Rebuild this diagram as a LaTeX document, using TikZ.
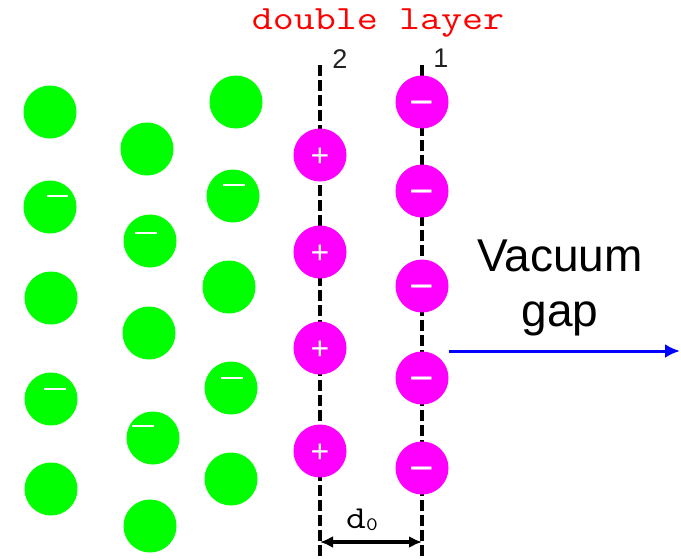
\documentclass[tikz,border=0pt]{standalone}
\usepackage{fontspec}
\setmainfont{Liberation Sans}
\newfontfamily\monof{Latin Modern Mono}[FakeStretch=1.2]
\usetikzlibrary{arrows.meta}
\definecolor{ggreen}{RGB}{0,255,0}
\definecolor{mag}{RGB}{255,0,255}
\definecolor{vblue}{RGB}{0,0,255}
\definecolor{tred}{RGB}{255,0,0}
\definecolor{lbl}{RGB}{34,34,34}
\begin{document}
\begin{tikzpicture}[x=1pt,y=-1pt,
  gball/.style={circle,fill=ggreen,minimum size=53pt,inner sep=0pt},
  pball/.style={circle,fill=mag,minimum size=53pt,inner sep=0pt,text=white},
  plusball/.style={pball,font=\fontsize{32}{32}\selectfont,text height=22.6pt,text depth=0pt},
  minusball/.style={pball,font=\fontsize{42}{42}\selectfont,text height=29.6pt,text depth=0pt},
  gdash/.style={white,line width=1.2pt},
  layerline/.style={black,line width=4pt,dash pattern=on 11pt off 4pt},
  dimarrow/.style={black,line width=4.5pt,{Latex[length=13pt,width=12pt]}-{Latex[length=13pt,width=12pt]}},
  gaparrow/.style={vblue,line width=3pt,-{Latex[length=15pt,width=14pt]}}]
\useasboundingbox (0,0) rectangle (681,560);
% layer lines
\coordinate (l2t) at (320,65);
\coordinate (l2b) at (320,560);
\coordinate (l1t) at (422,65);
\coordinate (l1b) at (422,560);
\draw[layerline] (l2t) -- (l2b);
\draw[layerline] (l1t) -- (l1b);
% green balls
\node[gball] (g11) at (50,112) {};
\node[gball] (g12) at (50,207) {};
\node[gball] (g13) at (51,298) {};
\node[gball] (g14) at (51,399) {};
\node[gball] (g15) at (51,489) {};
\node[gball] (g21) at (147,149) {};
\node[gball] (g22) at (150,241) {};
\node[gball] (g23) at (149,333) {};
\node[gball] (g24) at (153,438) {};
\node[gball] (g25) at (150,526) {};
\node[gball] (g31) at (236,102) {};
\node[gball] (g32) at (233,196) {};
\node[gball] (g33) at (229,287) {};
\node[gball] (g34) at (231,388) {};
\node[gball] (g35) at (231,479) {};
\draw[gdash] ([shift={(-3,-11)}]g12.center) -- ++(21,0);
\draw[gdash] ([shift={(-15,-8)}]g22.center) -- ++(22,0);
\draw[gdash] ([shift={(-10,-11)}]g32.center) -- ++(22,0);
\draw[gdash] ([shift={(-7,-10)}]g14.center) -- ++(22,0);
\draw[gdash] ([shift={(-21,-12)}]g24.center) -- ++(22,0);
\draw[gdash] ([shift={(-10,-10)}]g34.center) -- ++(22,0);
% magenta balls
\node[plusball] (p1) at (320,155) {+};
\node[plusball] (p2) at (320,252) {+};
\node[plusball] (p3) at (320,348) {+};
\node[plusball] (p4) at (320,451) {+};
\node[minusball] (m1) at (422,102) {−};
\node[minusball] (m2) at (422,191) {−};
\node[minusball] (m3) at (422,286) {−};
\node[minusball] (m4) at (422,378) {−};
\node[minusball] (m5) at (422,468) {−};
% labels
\node[anchor=base,text=tred,inner sep=0pt,font=\monof\fontsize{34}{34}\selectfont] (title) at (378,29) {double layer};
\node[anchor=base,text=lbl,inner sep=0pt,font=\fontsize{27}{27}\selectfont] (lab2) at (340,68) {2};
\node[anchor=base,text=lbl,inner sep=0pt,font=\fontsize{27}{27}\selectfont] (lab1) at (441,67) {1};
% d0
\coordinate (dl) at (320,542);
\coordinate (dr) at (422,542);
\draw[dimarrow] (dl) -- (dr);
\node[anchor=base,inner sep=0pt,font=\monof\fontsize{32}{32}\selectfont] (d0) at (362,528) {d\raisebox{-2pt}{\fontsize{19}{19}\selectfont 0}};
% vacuum gap
\node[align=center,inner sep=0pt,font=\fontsize{46}{55}\selectfont] (vac) at (560,288) {Vacuum\\gap};
\coordinate (va) at (449,351);
\coordinate (vb) at (680,351);
\draw[gaparrow] (va) -- (vb);
\end{tikzpicture}
\end{document}
